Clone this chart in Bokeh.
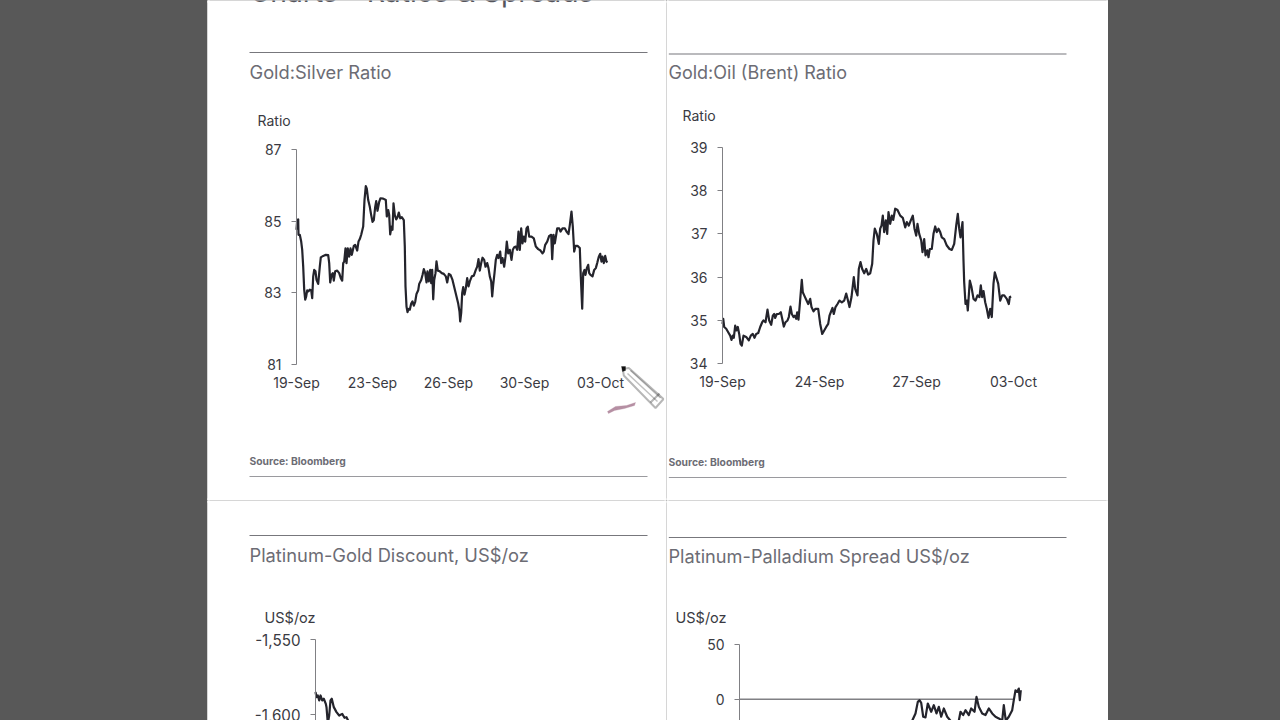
from bokeh.embed import file_html
from bokeh.resources import INLINE
from bokeh.plotting import figure
from bokeh.layouts import row, column
from bokeh.models import (FixedTicker, Label, BoxAnnotation, PolyAnnotation, Spacer)

# ---------- data ----------
gs_x = [0,.7,1.7,2,3.3,4.7,5.7,6.7,7.7,8.7,9.7,10.7,12,13.3,14.7,15.7,16.7,17.7,19,20,21.7,23.3,24.3,26.7,29.3,31.7,32.7,33.7,35,36.3,37.3,38.7,40.7,42.7,44.3,45.7,46.7,47.7,49,50,51.3,52.7,54,55.3,57.3,58.7,60.7,62,63.3,64.7,66.7,68,69.3,70.3,71.7,73.3,74.7,76,77.3,78.7,79.7,81,82.7,84,86.7,89.3,90.3,91.7,92.7,93.7,95,96,97,98.3,99.7,101,102.3,103.7,105.3,107.3,108.3,109,110,111,112,113.3,114.7,116,117.3,118.7,120,121.7,122.7,124.7,126,127.3,128.7,130,131,132.3,133.7,134.7,135.7,136.7,137.7,139,140,141.3,143.3,145.3,147.3,149.3,150.7,152.3,154,156,158,160,161.7,163,163.7,164.7,165.7,166.7,168,169.3,170.7,172,173.3,175.3,177.3,179.3,180.7,182,183.3,184.7,186,187.7,189,190.7,192,193.3,194.7,195.7,196.7,198,199.3,200.7,202,203.7,204.7,206,207.7,209,210.3,211.7,213.3,215,216.3,217.7,219.3,220.7,222,223.3,224.7,226,227.3,228.7,230,231.3,232.7,235,237.3,239.3,241.7,244,246,247.3,248.7,250.7,252.7,254.7,255.7,257,258.3,259.7,260.7,262.7,264,266,268.3,270,272,273.3,275,276.3,277.7,279,281,283.3,284.3,285.7,286.7,288,289,290.3,291.7,292.7,294,296,297.7,299.3,300.7,302.3,303.7,305,306,307.3,308.7,310,311]
gs_y = [84.76,85.03,85.05,84.62,84.62,84.43,84.20,83.73,83.09,82.81,82.90,83.07,83.04,83.09,83.07,82.85,83.46,83.64,83.60,83.36,83.25,83.73,83.99,84.03,84.06,84.05,83.83,83.29,83.50,83.55,83.34,83.60,83.62,83.55,83.41,83.34,83.83,83.87,84.24,83.83,84.24,84.01,84.24,84.06,84.31,84.34,84.18,84.43,84.50,84.62,84.85,85.59,85.98,85.91,85.59,85.40,85.17,84.98,85.03,85.40,85.56,85.29,85.54,85.64,85.63,85.59,85.13,85.31,85.17,84.63,84.85,84.76,85.50,85.17,85.05,85.11,85.24,85.08,85.11,85.03,84.29,83.18,82.62,82.46,82.55,82.53,82.70,82.76,82.64,82.75,82.97,83.07,83.25,83.36,83.50,83.66,83.55,83.29,83.60,83.32,83.64,83.27,83.64,82.82,83.36,83.55,83.88,83.62,83.60,83.55,83.53,83.46,83.29,83.53,83.50,83.36,83.13,82.90,82.70,82.48,82.20,82.44,83.00,83.16,82.95,83.13,83.41,83.18,83.32,83.46,83.48,83.64,83.73,83.94,83.62,83.83,83.98,83.92,83.73,83.83,83.69,83.46,83.32,82.90,83.22,83.55,83.92,84.06,83.97,84.15,83.83,83.97,83.73,84.01,84.43,84.10,84.20,83.92,84.20,84.27,84.29,84.20,84.71,84.20,84.80,84.38,84.57,84.43,84.80,84.85,84.57,84.57,84.52,84.29,84.22,84.18,84.10,84.15,84.34,84.43,84.59,84.62,83.94,84.62,84.38,84.62,84.80,84.80,84.71,84.80,84.80,84.71,84.64,84.89,85.27,84.85,84.15,84.31,84.31,84.25,83.46,82.56,83.55,83.64,83.50,83.69,83.78,83.55,83.50,83.46,83.64,83.69,83.83,84.01,84.09,83.87,84.01,83.83,84.03,83.87,83.85]
gs_ticks = [0, 76, 152, 228, 304]
gs_labels = ["19-Sep", "23-Sep", "26-Sep", "30-Sep", "03-Oct"]
gs_yticks = [81, 83, 85, 87]

go_x = [0,.7,1.7,3.7,5.7,7.7,9,10.3,11.3,12.7,14,15.3,16.7,18,19.3,21,23.7,26.3,28.3,30.3,32,33.7,35.7,37.7,39.7,41,43,45,46.7,48.7,50.3,51.7,52.7,54.3,56.3,58.3,59.7,61.3,63,65,66.3,68,69.3,71,72.3,73.7,74.7,76,77.3,79.3,80.3,81.7,83.7,85.7,87.7,89,91,93,95.7,97.7,99.7,101.7,103.7,105.7,107,108.3,110,111.3,113,115,117,119.3,121.7,123.7,125.3,127,129,131.3,132.7,135,136.3,138,139.7,141.7,143.7,145.7,147.7,149.7,151,152.3,154.3,156.3,157.7,159,160.3,161.7,163.3,164.7,166,167.7,169.3,170.7,172.7,175,177.7,180.3,182.7,184.3,186.3,188.3,190.3,192,193.7,195,196.7,198.7,200,201.7,203,204.7,206,207.3,209.3,211,212.7,214.3,216,217.7,219.3,221.7,224.3,227,229.3,231.7,233.7,235.3,236.7,238,240,241,241.7,243,244.3,245.3,247.3,249,251,253,255,257,258.3,259.7,261,262.7,264.3,266,267.7,269.3,271,272.3,273.7,275.7,277.7,279.7,281.7,284.3,286.3,287.3,288.7]
go_y = [34.92,35.04,34.85,34.81,34.73,34.65,34.55,34.65,34.60,34.88,34.77,34.85,34.69,34.46,34.42,34.65,34.62,34.54,34.65,34.69,34.60,34.69,34.71,34.85,34.96,35.00,34.96,35.25,35.00,34.90,35.11,35.15,35.06,35.15,35.15,35.19,35.04,34.86,34.96,35.00,35.08,35.32,35.15,35.08,35.11,35.04,35.19,35.02,35.37,35.94,35.65,35.58,35.48,35.38,35.50,35.31,35.21,35.27,35.27,34.92,34.69,34.77,34.85,34.92,35.11,35.19,35.29,35.15,35.31,35.38,35.46,35.42,35.46,35.62,35.48,35.31,35.54,36.00,35.73,35.58,36.19,36.35,36.19,36.09,36.19,36.06,36.09,36.31,36.85,37.12,37.00,36.77,37.12,37.19,37.42,37.04,37.31,37.00,37.50,37.23,37.42,37.32,37.58,37.55,37.42,37.37,37.15,37.27,37.19,37.31,37.42,37.12,36.96,37.23,37.00,36.85,36.58,36.88,36.50,36.62,36.46,36.65,36.65,37.00,37.17,37.04,37.12,37.04,36.92,36.88,36.73,36.65,36.63,36.77,37.19,37.46,37.12,36.92,37.27,36.38,35.88,35.38,35.46,35.23,35.92,35.77,35.50,35.46,35.58,35.54,35.81,35.54,35.68,35.42,35.27,35.06,35.27,35.08,35.85,36.11,36.00,35.85,35.46,35.58,35.58,35.50,35.38,35.54,35.55]
go_ticks = [0, 97, 194, 291]
go_labels = ["19-Sep", "24-Sep", "27-Sep", "03-Oct"]
go_yticks = [34, 35, 36, 37, 38, 39]

pg_x = [0,1,2.3,3.7,5,6.7,8.3,10.3,11,12.3,13.7,15,16.3,18.3,21,23.7,26.7,29,31,33.3]
pg_y = [-1585,-1588.4,-1587.3,-1590.6,-1587.3,-1590.6,-1589.5,-1592.9,-1595.1,-1605.8,-1600.7,-1590.6,-1589.5,-1595.1,-1598.4,-1600.7,-1599.6,-1602.2,-1601.8,-1605]
pg_yticks = [-1600, -1550]

pp_x = [171,173,176,178.3,180,181.7,183.7,186,188.3,191.7,194.3,197,199.3,201.7,204.3,207.7,211,216,219.3,221,223.7,226,229.3,231.7,235,237,239.3,242.7,246,249.3,252.7,256,259.3,262.7,264.3,266.3,269.3,272.7,274.3,276,277.7,279.3,280.3,281.3]
pp_y = [-23.4,-18.9,-12.9,-2.4,-0.9,-3.3,-15.9,-16.5,-3.9,-11.4,-5.4,-12.9,-6.9,-15.9,-8.4,-15.9,-19.5,-21.9,-19.5,-11.4,-14.4,-9.9,-14.4,-8.4,-11.4,2.1,-6.9,-12.9,-14.4,-8.4,-12.9,-15.9,-17.4,-19.5,-5.4,-19.5,-15.9,-9.9,-0.9,8.1,6.6,9.6,-0.9,8.1]
pp_zero_x = [0, 274]
pp_zero_y = [0, 0]
pp_yticks = [0, 50]

titles = ["Gold:Silver Ratio", "Gold:Oil (Brent) Ratio", "Platinum-Gold Discount, US$/oz", "Platinum-Palladium Spread US$/oz"]
heading = "Charts - Ratios & Spreads"
source = "Source: Bloomberg"

FONT = "Inter"
INK = "#24242c"
TICK = "#3a3a42"
AXIS = "#808084"
TITLE = "#6c6c74"


def panel(fx, fy, fw, fh, L, v_hi, py_hi, v_lo, py_lo, y_floor=None, labels=14):
    """Figure whose plot area fills the page box (fx,fy,fw,fh); its scale puts x=0 at page x L
    and the two given axis values at the given page rows; both axes sit inside the plot area."""
    per_px = (v_hi - v_lo) / (py_lo - py_hi)
    top = v_hi + (py_hi - fy) * per_px
    bot = v_lo - (fy + fh - py_lo) * per_px
    p = figure(width=fw, height=fh, output_backend="svg", toolbar_location=None,
               x_range=(fx - L, fx + fw - L), y_range=(bot, top),
               min_border_left=0, min_border_right=0, min_border_top=0, min_border_bottom=0)
    p.outline_line_alpha = 0
    p.grid.visible = False
    p.yaxis.fixed_location = 0
    p.yaxis.bounds = (bot if y_floor is None else y_floor, v_hi)
    p.xaxis.fixed_location = v_lo
    p.yaxis.axis_line_color = AXIS
    p.yaxis.major_tick_line_color = AXIS
    p.yaxis.major_tick_out = 5
    p.yaxis.major_tick_in = 0
    p.yaxis.minor_tick_line_alpha = 0
    p.yaxis.major_label_text_font = FONT
    p.yaxis.major_label_text_font_size = f"{labels}px"
    p.yaxis.major_label_text_color = TICK
    p.yaxis.major_label_standoff = 10
    p.xaxis.axis_line_alpha = 0
    p.xaxis.major_tick_line_alpha = 0
    p.xaxis.minor_tick_line_alpha = 0
    p.xaxis.major_label_text_font = FONT
    p.xaxis.major_label_text_font_size = "14px"
    p.xaxis.major_label_text_color = TICK
    p.xaxis.major_label_standoff = 3
    p.tags = [fx, fy + fh]
    # white strips along the panel's edges, above everything else (the top one stays under the texts)
    for left, right, bottom, top_, lvl in [(-1, 2, -1, fh + 1, "overlay"), (fw - 2, fw + 1, -1, fh + 1, "overlay"),
                                           (-1, fw + 1, -1, 2, "overlay"), (-1, fw + 1, fh - 2, fh + 1, "annotation")]:
        p.add_layout(BoxAnnotation(left=left, right=right, bottom=bottom, top=top_,
                                   left_units="screen", right_units="screen",
                                   top_units="screen", bottom_units="screen",
                                   fill_color="white", fill_alpha=1, line_color="white", line_width=1, level=lvl))
    return p


def text(p, px, py, s, size, color=TITLE, weight="normal"):
    L, B = p.tags
    p.add_layout(Label(x=px - L, y=B - py, x_units="screen", y_units="screen", text=s,
                       text_font=FONT, text_font_size=size, text_color=color,
                       text_font_style=weight, text_baseline="alphabetic", text_align="left"))


def rule(p, x0, x1, py, color="#77777c", h=1):
    L, B = p.tags
    p.add_layout(BoxAnnotation(left=x0 - L, right=x1 - L, top=B - py + 0.5, bottom=B - py - h + 0.5,
                               left_units="screen", right_units="screen",
                               top_units="screen", bottom_units="screen",
                               fill_color=color, fill_alpha=1, line_color=color, line_alpha=0))


def poly(p, pts, fill, line="#111111", width=2):
    L, B = p.tags
    p.add_layout(PolyAnnotation(xs=[a - L for a, _ in pts], ys=[B - b for _, b in pts],
                                xs_units="screen", ys_units="screen",
                                fill_color=fill, fill_alpha=1,
                                line_color=line, line_width=width))


def set_x(p, ticks, labels):
    p.xaxis.ticker = FixedTicker(ticks=ticks)
    p.xaxis.major_label_overrides = dict(zip(ticks, labels))


a = panel(207, 0, 459, 500, 296, 87, 149, 81, 364, y_floor=81)
a.yaxis.ticker = FixedTicker(ticks=gs_yticks)
set_x(a, gs_ticks, gs_labels)
a.line(gs_x, gs_y, line_color=INK, line_width=2.2, line_join="round")
text(a, 249, -9, heading, "28.3px", "#55555c")
rule(a, 249, 647, 52)
text(a, 249, 71, titles[0], "18.3px")
text(a, 257, 120, "Ratio", "14px", TICK)
text(a, 249, 460, source, "10.3px", TITLE, "bold")
rule(a, 249, 647, 476, "#9a9a9e")
# pencil + smear
poly(a, [(607, 411), (615, 406), (626, 405), (635, 402), (634, 405), (624, 408), (614, 410), (608, 413)], "#b58fa3", "#b58fa3", 1)
poly(a, [(622.3, 368.5), (628.3, 367.5), (663, 398.5), (655, 407.5), (623.3, 375)], "white")
poly(a, [(621, 366), (625, 366), (625, 370), (622, 371)], "#111111", "#111111", 1)
poly(a, [(627, 373), (657, 401), (627, 373)], "white", "#333333", 1.5)
poly(a, [(630, 370), (660, 397.5), (630, 370)], "white", "#333333", 1.5)
poly(a, [(650, 402), (659, 393), (650, 402)], "white", "#111111", 2)

b = panel(666, 0, 442, 500, 722, 39, 146.7, 34, 363.3, y_floor=34)
b.yaxis.ticker = FixedTicker(ticks=go_yticks)
set_x(b, go_ticks, go_labels)
b.line(go_x, go_y, line_color=INK, line_width=2.2, line_join="round")
rule(b, 668, 1066, 53.5)
text(b, 668, 72, titles[1], "18px")
text(b, 682, 115, "Ratio", "14px", TICK)
text(b, 668, 461, source, "10.3px", TITLE, "bold")
rule(b, 668, 1066, 477, "#9a9a9e")

# the bottom row runs a little past the window's lower edge
c = panel(207, 500, 459, 224, 315, -1550, 639, -1600, 714, labels=15.2)
c.yaxis.ticker = FixedTicker(ticks=pg_yticks)
c.yaxis.major_label_overrides = {v: f"{v:,}" for v in pg_yticks}
c.xaxis.visible = False
c.line(pg_x, pg_y, line_color=INK, line_width=2.2, line_join="round")
rule(c, 249, 647, 535)
text(c, 249, 554, titles[2], "18.3px")
text(c, 264, 617, "US$/oz", "14.5px", TICK)

d = panel(666, 500, 442, 224, 739, 50, 643.5, 0, 698.7, labels=14)
d.yaxis.ticker = FixedTicker(ticks=pp_yticks)
d.xaxis.visible = False
d.line(pp_zero_x, pp_zero_y, line_color=AXIS, line_width=1.5)
d.line(pp_x, pp_y, line_color=INK, line_width=2.2, line_join="round")
rule(d, 668, 1066, 537)
text(d, 668, 555, titles[3], "18.2px")
text(d, 675, 617, "US$/oz", "14.5px", TICK)

page = row(Spacer(width=207, height=720), column(row(a, b), row(c, d)))
html = file_html(page, INLINE)
html = html.replace("<head>", "<head><style>html,body{margin:0;padding:0;background:#585858;overflow:hidden}</style>", 1)
open("out.html", "w").write(html)
